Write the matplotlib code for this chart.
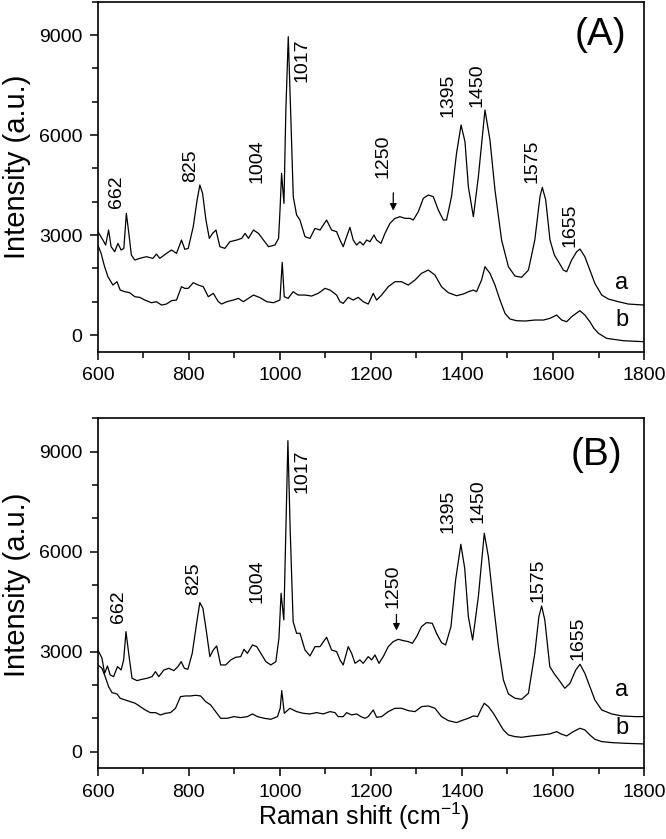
import matplotlib
matplotlib.use('Agg')
import matplotlib.pyplot as plt
from matplotlib.ticker import MultipleLocator

plt.rcParams['font.family'] = ['Liberation Sans', 'DejaVu Sans']
plt.rcParams['mathtext.fontset'] = 'custom'
plt.rcParams['mathtext.rm'] = 'Liberation Sans'
plt.rcParams['mathtext.it'] = 'Liberation Sans:italic'
plt.rcParams['mathtext.bf'] = 'Liberation Sans:bold'

# panel A, spectrum a
xa_A = [600, 611, 617, 623.5, 629, 637, 644, 651, 657, 662.5, 668, 673.5, 681, 692, 706.6, 721, 728.6, 736,
        750.7, 761.7, 772.7, 783.7, 791, 798.5, 809.5, 818, 824, 830, 837.4, 844.8, 852, 859.5, 868, 879, 890,
        905, 916, 923.4, 930.8, 941.8, 952.8, 963.8, 974.9, 989, 997, 1000, 1003.6, 1008.8, 1013, 1018.3,
        1023.4, 1029.3, 1036.6, 1044, 1055, 1066, 1077, 1088, 1102.5, 1113.5, 1124.5, 1132, 1139, 1146.5,
        1153.8, 1161, 1168.5, 1175.8, 1183, 1190.5, 1197.8, 1206.6, 1212.4, 1222, 1230.8, 1241.7, 1252.7,
        1263.7, 1274.7, 1285.7, 1293, 1304, 1315, 1326, 1337, 1348, 1359, 1366, 1377, 1388, 1398, 1406.6,
        1414, 1425, 1436, 1450.5, 1461.5, 1472.5, 1487, 1502, 1516.5, 1531, 1546, 1560, 1571.4, 1576.5, 1584,
        1593.4, 1603, 1612, 1622.7, 1630, 1641, 1652, 1659.3, 1670, 1681, 1692, 1707, 1721.6, 1743.6, 1765.5,
        1800]
ya_A = [3100, 2850, 2700, 3150, 2650, 2500, 2750, 2550, 2600, 3650, 3050, 2400, 2250, 2300, 2350, 2300, 2430, 2300,
        2450, 2550, 2450, 2850, 2570, 2600, 3250, 4050, 4500, 4250, 3450, 2900, 3050, 3150, 2650, 2600, 2800,
        2850, 2900, 3050, 2900, 3150, 3050, 2850, 2650, 2700, 2900, 3700, 4850, 3950, 6750, 8950,
        6750, 4150, 3600, 3450, 2950, 2900, 3200, 3150, 3450, 3150, 3100, 2850, 2650, 2950,
        3230, 2850, 2700, 2800, 2700, 2850, 2800, 3000, 2850, 2750, 3050, 3350, 3500,
        3550, 3500, 3500, 3450, 3700, 4100, 4200, 4150, 3750, 3450, 3450, 4150, 5450, 6300, 5800,
        4450, 3550, 4750, 6750, 5850, 4350, 2850, 2050, 1770, 1730, 1950, 2850, 4150, 4430, 4050,
        2850, 2400, 2200, 1950, 1900, 2250, 2500, 2580, 2350, 1950, 1550, 1200, 1080, 1000, 930,
        900]

# panel A, spectrum b
xb_A = [600, 607, 614.7, 622, 633, 642, 649, 659, 670, 681, 692, 703, 717.6, 728.6, 739.7, 750.7, 761.7, 772.7,
        783.7, 791, 798.5, 809.5, 820.5, 831.5, 842.5, 853.6, 864.6, 872, 883, 897.7, 908.7, 919.7, 930.7,
        941.8, 956.5, 971, 985.9, 1000, 1005, 1009.5, 1018, 1029, 1040, 1055, 1069.6, 1084, 1099, 1110,
        1124.5, 1132, 1139, 1150, 1161, 1172, 1183, 1194, 1205, 1212.4, 1223.4, 1238, 1252.7, 1267, 1282,
        1296.7, 1311, 1326, 1340.6, 1355, 1370, 1388, 1403, 1414, 1425, 1432, 1443, 1450.5, 1461.5, 1472.5,
        1483.5, 1494.5, 1505.5, 1520, 1538.5, 1560, 1579, 1593, 1608, 1619, 1630, 1641, 1659, 1670, 1681,
        1690, 1700, 1718, 1754.6, 1800]
yb_A = [2700, 2450, 2050, 1750, 1500, 1600, 1350, 1300, 1270, 1150, 1130, 1050, 970, 1000, 900, 930, 1030, 1050,
        1450, 1400, 1400, 1570, 1500, 1450, 1150, 1250, 1000, 930, 1000, 1050, 1100, 1000, 1100,
        1200, 1120, 1000, 970, 1050, 2180, 1150, 1100, 1300, 1200, 1200, 1170, 1250, 1400, 1350,
        1200, 1000, 950, 1130, 1050, 1130, 1000, 930, 1250, 1050, 1200, 1450, 1600, 1600, 1500,
        1650, 1850, 1950, 1800, 1450, 1270, 1180, 1230, 1300, 1350, 1300, 1650, 2050, 1850, 1500,
        1050, 650, 480, 430, 420, 450, 450, 500, 600, 450, 400, 550, 730, 600, 400,
        200, 50, -100, -170, -200]

# panel B, spectrum a
xa_B = [600, 609, 614.7, 621, 627, 634.5, 643, 651, 656.6, 661.7, 667.6, 675, 686, 697, 708, 719, 726.4, 733.8,
        745, 756, 767, 775.7, 783, 790, 797.7, 807.3, 818, 824, 830.8, 839, 846, 853.6, 861, 869.7, 880.8,
        891.8, 902.8, 913.8, 921, 928.5, 939.6, 949, 958, 969, 980, 991, 997.8, 1002.5, 1008.5, 1013, 1017.5,
        1022.5, 1029, 1036.6, 1044, 1055, 1066, 1077, 1088, 1102.5, 1113.5, 1124.5, 1132, 1139, 1150, 1157.5,
        1165, 1175.8, 1183, 1194, 1201.5, 1208.8, 1217.6, 1227, 1238, 1249, 1260, 1271, 1282, 1291, 1300.4,
        1311, 1322, 1334.8, 1344, 1355, 1364, 1375.8, 1386, 1397.5, 1406, 1414, 1423.4, 1436, 1449, 1458,
        1469, 1480, 1491, 1502, 1516.5, 1531, 1546, 1560, 1569, 1575, 1582, 1593, 1603, 1613, 1626, 1637.4,
        1650, 1659.3, 1670, 1681, 1692, 1707, 1729, 1751, 1780, 1800]
ya_B = [3050, 2800, 2350, 2570, 2300, 2250, 2550, 2450, 2750, 3600, 2950, 2200, 2130, 2170, 2200, 2250, 2400, 2250,
        2450, 2500, 2430, 2550, 2700, 2500, 2470, 2950, 3950, 4470, 4300, 3550, 2850, 3050, 3170, 2600, 2600,
        2750, 2830, 2850, 3070, 2950, 3200, 3150, 2950, 2700, 2600, 2700, 3400, 4750, 3950, 6650, 9330,
        6650, 3900, 3550, 3550, 3050, 2870, 3150, 3150, 3430, 3050, 3000, 2750, 2600, 3150, 2950,
        2650, 2750, 2650, 2850, 2750, 2900, 2650, 2850, 3150, 3300, 3370, 3330, 3300, 3250, 3450,
        3750, 3870, 3850, 3550, 3270, 3200, 3750, 5150, 6220, 5500, 4050, 3350, 4650, 6550, 5850,
        4450, 3150, 2150, 1730, 1600, 1570, 1750, 2950, 4050, 4370, 3950, 2550, 2330, 2150, 1900, 2050,
        2450, 2620, 2350, 1950, 1550, 1250, 1130, 1070, 1050, 1050]

# panel B, spectrum b
xb_B = [600, 609, 616, 623.5, 631, 642, 649, 660, 671, 682, 693, 704, 715, 726.4, 737.4, 748.5, 759.5, 770.5,
        781.5, 792.6, 803.6, 814.6, 825.6, 836.7, 847.7, 858.7, 869.7, 884.4, 899, 913.8, 928.5, 939.6, 950.6,
        965.3, 980, 994.7, 1000.6, 1004, 1009.5, 1022, 1036.6, 1051, 1066, 1080.6, 1095, 1110, 1121, 1128,
        1139, 1146.5, 1157.5, 1168.5, 1178, 1187, 1194, 1205, 1212.4, 1223.4, 1238, 1252.7, 1267.4, 1282,
        1296.7, 1311.3, 1326, 1340.6, 1355, 1370, 1388, 1403, 1414, 1425, 1434.4, 1443, 1449, 1458, 1469,
        1480, 1491, 1502, 1516.5, 1531, 1553, 1575, 1593, 1608, 1617.6, 1630, 1644.7, 1659.3, 1670, 1681,
        1692, 1707, 1729, 1758, 1800]
yb_B = [2600, 2500, 2250, 1950, 1770, 1730, 1600, 1550, 1500, 1450, 1350, 1250, 1170, 1170, 1100, 1150, 1170, 1300,
        1650, 1670, 1670, 1690, 1670, 1500, 1400, 1200, 1000, 1000, 1050, 1020, 1050, 1130, 1050,
        1000, 970, 1050, 1300, 1830, 1150, 1300, 1200, 1150, 1130, 1170, 1130, 1200, 1170, 1050,
        1050, 1170, 1100, 1130, 1050, 1000, 1050, 1250, 1030, 1050, 1200, 1300, 1300, 1230,
        1200, 1350, 1370, 1300, 1050, 930, 870, 950, 1000, 1070, 1050, 1300, 1450, 1350, 1150,
        900, 650, 500, 450, 430, 470, 500, 530, 600, 530, 470, 600, 700, 650, 500,
        370, 300, 270, 250, 230]

peak_labels = ['662', '825', '1004', '1017', '1250', '1395', '1450', '1575', '1655']
# label anchor (x, bottom of text) for each panel
lab_pos_A = [(641, 3800), (804, 4600), (949, 4550), (1048, 7600), (1227, 4700),
             (1370, 6550), (1432, 6850), (1553, 4550), (1637, 2650)]
lab_pos_B = [(645, 3850), (810, 4700), (949, 4470), (1048, 7770), (1249, 4300),
             (1370, 6550), (1436, 6850), (1566, 4500), (1656, 2750)]

fig = plt.figure(figsize=(6.66, 8.39), dpi=100)
axA = fig.add_axes([0.147, 0.5808, 0.82, 0.4172])
axB = fig.add_axes([0.147, 0.0843, 0.82, 0.4171])

panels = [
    (axA, xa_A, ya_A, xb_A, yb_A, lab_pos_A, '(A)', (1705, 9000), (1249, 4350, 3650), (1550, 450), 0.529),
    (axB, xa_B, ya_B, xb_B, yb_B, lab_pos_B, '(B)', (1696, 8900), (1256, 4200, 3550), (1850, 700), 0.524),
]

for ax, xa, ya, xb, yb, lpos, tag, tagpos, arr, abpos, ylc in panels:
    ax.plot(xa, ya, color='black', lw=0.9)
    ax.plot(xb, yb, color='black', lw=0.9)
    ax.set_xlim(600, 1800)
    ax.set_ylim(-500, 10000)
    ax.set_xticks([600, 800, 1000, 1200, 1400, 1600, 1800])
    ax.set_yticks([0, 3000, 6000, 9000])
    ax.xaxis.set_minor_locator(MultipleLocator(100))
    ax.yaxis.set_minor_locator(MultipleLocator(1000))
    ax.tick_params(which='major', direction='out', length=6, width=1.1, labelsize=14, pad=5)
    ax.tick_params(which='minor', direction='out', length=4, width=1.1)
    for s in ax.spines.values():
        s.set_linewidth(1.2)
    ax.set_ylabel('Intensity (a.u.)', fontsize=21)
    ax.yaxis.set_label_coords(-0.123, ylc)

    for lab, (lx, ly) in zip(peak_labels, lpos):
        ax.text(lx, ly, lab, rotation=90, ha='center', va='bottom', fontsize=14)
    ax.text(tagpos[0], tagpos[1], tag, ha='center', va='center', fontsize=28)
    ax.text(1751, abpos[0], 'a', ha='center', va='center', fontsize=17)
    ax.text(1751, abpos[1], 'b', ha='center', va='center', fontsize=17)
    ax.annotate('', xy=(arr[0], arr[2]), xytext=(arr[0], arr[1]),
                arrowprops=dict(arrowstyle='-|>', color='black', lw=0.9, mutation_scale=10))

fig.text(364 / 666, 1 - 825 / 839, r'Raman shift (cm$^{\mathrm{-1}}$)', ha='center', va='baseline', fontsize=18)

fig.savefig('out.png', dpi=100)
